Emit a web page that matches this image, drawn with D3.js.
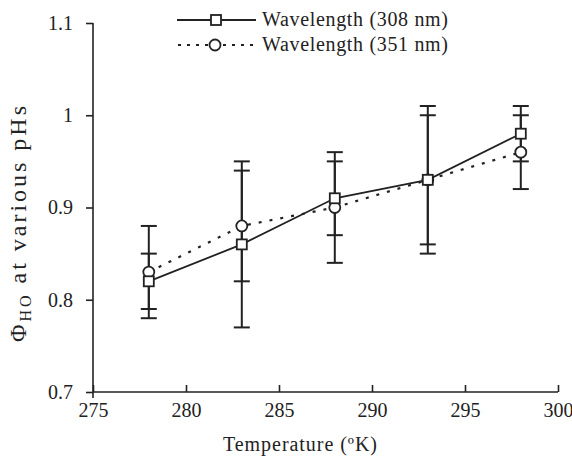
<!DOCTYPE html>
<html><head><meta charset="utf-8">
<script src="https://cdn.jsdelivr.net/npm/d3@7"></script>
<style>body{margin:0;background:#fff}svg{display:block}text{font-family:"Liberation Serif","Times New Roman",serif;fill:#222}</style>
</head><body>
<script>
const temps = [278, 283, 288, 293, 298];
const v308 = [0.82, 0.86, 0.91, 0.93, 0.98];
const hi308 = [0.85, 0.95, 0.96, 1.01, 1.01];
const lo308 = [0.79, 0.77, 0.87, 0.85, 0.95];
const v351 = [0.83, 0.88, 0.90, 0.93, 0.96];
const hi351 = [0.88, 0.94, 0.95, 1.00, 1.00];
const lo351 = [0.78, 0.82, 0.84, 0.86, 0.92];
const xTicks = [275, 280, 285, 290, 295, 300];
const yTicks = [0.7, 0.8, 0.9, 1.0, 1.1];
const yTickLabels = ["0.7", "0.8", "0.9", "1", "1.1"];
const seriesNames = ["Wavelength (308 nm)", "Wavelength (351 nm)"];

const W = 572, H = 461;
const ink = "#222";
const svg = d3.select("body").append("svg").attr("width", W).attr("height", H);
const x = d3.scaleLinear().domain([275, 300]).range([93, 558]);
const y = d3.scaleLinear().domain([0.7, 1.1]).range([392, 23]);

// axes
const gx = svg.append("g").attr("transform", `translate(0,${y(0.7)})`)
  .call(d3.axisBottom(x).tickValues(xTicks).tickSize(-7).tickPadding(14).tickFormat(d3.format("d")));
const gy = svg.append("g").attr("transform", `translate(${x(275)},0)`)
  .call(d3.axisLeft(y).tickValues(yTicks).tickSize(7).tickPadding(13).tickFormat((d, i) => yTickLabels[i]));
[gx, gy].forEach(g => {
  g.select(".domain").attr("stroke", ink).attr("stroke-width", 1.6);
  g.selectAll(".tick line").attr("stroke", ink).attr("stroke-width", 1.6);
  g.selectAll(".tick text").attr("font-size", 20).attr("fill", ink).style("font-family", '"Liberation Serif",serif');
});
gx.select(".domain").attr("d", `M${x(275)},0H${x(300)}`);
gy.select(".domain").attr("d", `M0,${y(1.1)}V${y(0.7) + 6}`);
gx.selectAll(".tick text").attr("dy", "0.55em");

// axis titles
svg.append("text").attr("x", 300).attr("y", 451).attr("text-anchor", "middle").attr("font-size", 20)
  .attr("textLength", 154).attr("lengthAdjust", "spacing")
  .text("Temperature (ºK)");
const yl = svg.append("text").attr("transform", "translate(26,224) rotate(-90)").attr("text-anchor", "middle").attr("font-size", 24)
  .attr("textLength", 236).attr("lengthAdjust", "spacing");
yl.append("tspan").text("Φ");
yl.append("tspan").attr("font-size", 16).attr("dy", 5).text("HO");
yl.append("tspan").attr("dy", -5).text(" at various pHs");

// error bars
function errBars(vals, lo, hi) {
  const g = svg.append("g").attr("stroke", ink).attr("stroke-width", 2).attr("fill", "none");
  temps.forEach((t, i) => {
    g.append("line").attr("x1", x(t)).attr("x2", x(t)).attr("y1", y(lo[i])).attr("y2", y(hi[i]));
    [lo[i], hi[i]].forEach(v => g.append("line").attr("x1", x(t) - 8).attr("x2", x(t) + 8).attr("y1", y(v)).attr("y2", y(v)));
  });
}
errBars(v308, lo308, hi308);
errBars(v351, lo351, hi351);

const line = d3.line().x((d, i) => x(temps[i])).y(d => y(d));
svg.append("path").datum(v351).attr("d", line).attr("fill", "none").attr("stroke", ink).attr("stroke-width", 2.2).attr("stroke-dasharray", "3,8");
svg.append("path").datum(v308).attr("d", line).attr("fill", "none").attr("stroke", ink).attr("stroke-width", 1.8);

// markers
svg.append("g").selectAll("circle").data(v351).join("circle")
  .attr("cx", (d, i) => x(temps[i])).attr("cy", d => y(d)).attr("r", 5.5)
  .attr("fill", "#fff").attr("stroke", ink).attr("stroke-width", 1.8);
svg.append("g").selectAll("rect").data(v308).join("rect")
  .attr("x", (d, i) => x(temps[i]) - 5).attr("y", d => y(d) - 5).attr("width", 10).attr("height", 10)
  .attr("fill", "#fff").attr("stroke", ink).attr("stroke-width", 1.8);

// legend
const leg = svg.append("g");
leg.append("line").attr("x1", 177).attr("x2", 256).attr("y1", 20).attr("y2", 20).attr("stroke", ink).attr("stroke-width", 1.8);
leg.append("rect").attr("x", 211).attr("y", 15).attr("width", 10).attr("height", 10).attr("fill", "#fff").attr("stroke", ink).attr("stroke-width", 1.8);
leg.append("line").attr("x1", 178).attr("x2", 256).attr("y1", 45).attr("y2", 45).attr("stroke", ink).attr("stroke-width", 2.2).attr("stroke-dasharray", "3,6");
leg.append("circle").attr("cx", 215).attr("cy", 45).attr("r", 5.5).attr("fill", "#fff").attr("stroke", ink).attr("stroke-width", 1.8);
seriesNames.forEach((s, i) => {
  leg.append("text").attr("x", 262).attr("y", 26 + i * 25).attr("font-size", 20)
    .attr("textLength", 186).attr("lengthAdjust", "spacing").text(s);
});
</script>
</body></html>
